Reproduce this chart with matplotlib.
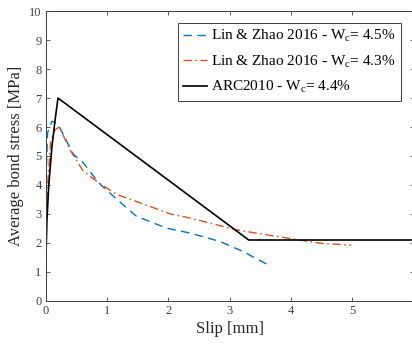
import numpy as np
import matplotlib
matplotlib.use("Agg")
import matplotlib.pyplot as plt

plt.rcParams['font.family'] = ['Liberation Serif', 'DejaVu Serif']
plt.rcParams['mathtext.fontset'] = 'custom'
plt.rcParams['mathtext.rm'] = 'Liberation Serif'
plt.rcParams['mathtext.it'] = 'Liberation Serif:italic'

# Lin & Zhao 2016, Wc = 4.5%
slip_lz45 = [0.0, 0.01, 0.03, 0.1, 0.2, 0.45, 0.61, 0.86, 1.16, 1.48, 1.97, 2.35, 2.84, 3.22, 3.61]
tau_lz45 = [1.3, 4.5, 5.8, 6.2, 6.1, 5.06, 4.77, 4.08, 3.50, 2.92, 2.51, 2.34, 2.05, 1.70, 1.26]

# Lin & Zhao 2016, Wc = 4.3%
slip_lz43 = [0.0, 0.03, 0.08, 0.15, 0.22, 0.4, 0.61, 0.86, 1.16, 1.70, 2.03, 2.35, 3.11, 3.6, 4.47, 4.98]
tau_lz43 = [2.3, 4.0, 5.5, 5.9, 6.0, 5.2, 4.48, 4.08, 3.67, 3.26, 3.0, 2.86, 2.45, 2.28, 1.99, 1.92]

# ARC2010, Wc = 4.4%
slip_arc = [0.0, 0.005, 0.02, 0.05, 0.1, 0.15, 0.2, 3.31, 6.0]
tau_arc = [0.0, 1.6, 2.8, 4.0, 5.3, 6.2, 7.0, 2.1, 2.1]

fig = plt.figure(figsize=(4.12, 3.47), dpi=100)
ax = fig.add_axes([0.111, 0.133, 0.893, 0.835])

ax.plot(slip_lz45, tau_lz45, color='#0072BD', linestyle=(0, (6, 4)), linewidth=1.0,
        label='Lin & Zhao 2016 - W$_{\\mathrm{c}}$= 4.5%')
ax.plot(slip_lz43, tau_lz43, color='#D95319', linestyle=(0, (6, 2.5, 1.2, 2.5)), linewidth=1.0,
        label='Lin & Zhao 2016 - W$_{\\mathrm{c}}$= 4.3%')
ax.plot(slip_arc, tau_arc, color='black', linestyle='-', linewidth=1.2,
        label='ARC2010 - W$_{\\mathrm{c}}$= 4.4%')

ax.set_xlim(0, 6)
ax.set_ylim(0, 10)
ax.set_xticks([0, 1, 2, 3, 4, 5])
ax.set_yticks(range(0, 11))
ax.tick_params(direction='in', top=True, right=True, length=3, width=0.6,
               colors='#404040', labelsize=9, pad=3)
for s in ax.spines.values():
    s.set_color('#404040')
    s.set_linewidth(0.7)

ax.set_xlabel('Slip [mm]', fontsize=12, color='#262626', labelpad=3)
ax.set_ylabel('Average bond stress [MPa]', fontsize=12, color='#262626', labelpad=4)

leg = ax.legend(loc='upper right', bbox_to_anchor=(0.965, 0.96), fontsize=11,
                fancybox=False, framealpha=1, edgecolor='#404040',
                handlelength=1.6, handletextpad=0.25, borderpad=0.35,
                labelspacing=0.62, borderaxespad=0)
leg.get_frame().set_linewidth(0.7)

fig.savefig('out.png', dpi=100)
